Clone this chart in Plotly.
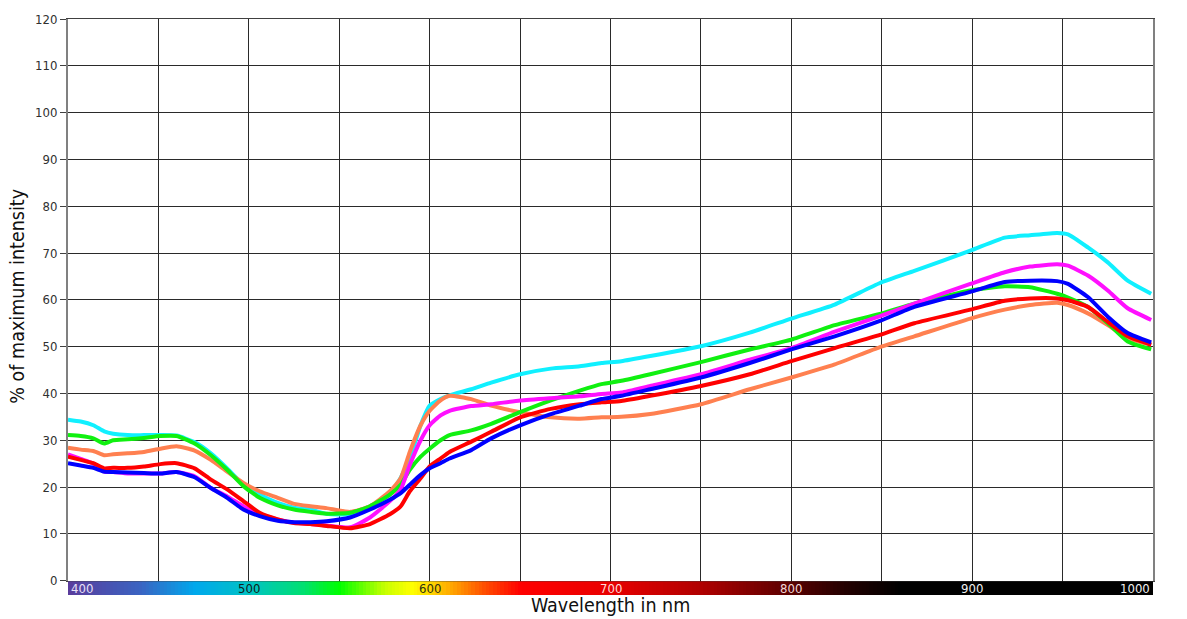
import numpy as np
import plotly.graph_objects as go

# ---------------- data ----------------
wavelength = [400, 407, 414, 420, 425, 433, 442, 451, 460, 470, 479, 488, 497, 506, 516, 525,
              534, 543, 556, 567, 578, 584, 589, 595, 600, 606, 611, 623, 634, 650, 667, 683,
              695, 706, 722, 750, 777, 800, 824, 849, 868, 899, 918, 932, 947, 953, 964, 975,
              986, 999]

cyan_vals = [34.4, 34.0, 33.2, 31.9, 31.4, 31.1, 31.1, 31.1, 31.0, 29.6, 27.2, 24.0, 20.5, 18.4,
             16.6, 15.6, 15.2, 14.3, 14.2, 15.9, 18.4, 22.0, 26.1, 33.2, 37.4, 38.8, 39.6, 40.9,
             42.3, 44.1, 45.3, 45.8, 46.5, 46.9, 48.0, 50.1, 53.0, 56.0, 59.0, 63.6, 66.2, 70.5,
             73.3, 73.8, 74.3, 74.0, 71.2, 68.0, 64.1, 61.3]

orange_vals = [28.4, 28.0, 27.7, 26.8, 27.0, 27.2, 27.5, 28.2, 28.7, 27.8, 25.8, 23.3, 20.9, 19.1,
               17.7, 16.4, 15.9, 15.5, 14.7, 15.9, 19.1, 21.9, 27.5, 33.2, 36.3, 38.5, 39.5, 38.8,
               37.4, 36.0, 34.9, 34.6, 34.9, 35.0, 35.6, 37.7, 40.9, 43.4, 46.2, 49.9, 52.2, 56.0,
               57.9, 58.9, 59.4, 58.9, 57.1, 54.6, 51.8, 50.4]

green_vals = [31.1, 30.9, 30.4, 29.3, 30.0, 30.2, 30.5, 30.9, 30.9, 29.3, 26.8, 23.7, 20.2, 17.7,
              16.1, 15.2, 14.7, 14.3, 14.5, 15.9, 18.4, 20.5, 23.7, 26.5, 28.2, 30.0, 31.1, 32.1,
              33.5, 36.0, 38.5, 40.6, 42.0, 42.7, 44.1, 46.7, 49.4, 51.5, 54.6, 57.0, 59.2, 62.0,
              62.9, 62.7, 61.3, 60.5, 58.5, 55.0, 51.1, 49.4]

magenta_vals = [27.0, 26.0, 25.0, 23.3, 23.2, 22.9, 22.9, 22.9, 23.2, 22.3, 19.8, 18.0, 15.9, 14.2,
                13.1, 12.4, 12.1, 11.8, 11.4, 13.5, 17.0, 19.5, 24.7, 30.0, 33.2, 35.3, 36.3, 37.3,
                37.7, 38.5, 39.0, 39.4, 39.9, 40.2, 41.6, 44.1, 47.2, 49.7, 53.2, 56.5, 59.2, 63.4,
                65.9, 67.1, 67.6, 67.3, 65.2, 62.0, 58.2, 55.7]

red_vals = [26.5, 25.8, 25.1, 24.0, 24.1, 24.1, 24.4, 24.9, 25.1, 24.0, 21.6, 19.5, 17.0, 14.5,
            13.1, 12.3, 12.1, 11.7, 11.2, 12.1, 14.2, 15.9, 19.1, 21.9, 24.4, 26.1, 27.5, 29.7,
            31.8, 34.9, 36.7, 37.7, 38.1, 38.4, 39.5, 41.6, 44.1, 46.9, 49.7, 52.5, 55.0, 57.9,
            59.8, 60.3, 60.3, 59.9, 58.5, 55.3, 52.2, 50.4]

blue_vals = [25.1, 24.6, 24.1, 23.3, 23.2, 23.1, 23.0, 22.9, 23.2, 22.1, 19.8, 17.7, 15.2, 13.8,
             12.8, 12.5, 12.5, 12.7, 13.5, 15.2, 17.3, 18.7, 20.5, 22.6, 24.0, 25.1, 26.1, 27.9,
             30.4, 33.2, 35.6, 37.4, 38.8, 39.5, 40.9, 43.4, 46.5, 49.4, 52.2, 55.5, 58.5, 61.7,
             63.8, 64.1, 64.0, 63.4, 60.6, 56.4, 52.9, 50.9]

series_names = ["cyan", "orange", "green", "magenta", "red", "blue"]
bar_ticks = [400, 500, 600, 700, 800, 900, 1000]
y_ticks = list(range(0, 121, 10))

# ---------------- styles ----------------
series_colors = {"cyan": "#10f0ff", "orange": "#ff8050", "green": "#10f010",
                 "magenta": "#ff10ff", "red": "#ff0000", "blue": "#0000ff"}
series_data = {"cyan": cyan_vals, "orange": orange_vals, "green": green_vals,
               "magenta": magenta_vals, "red": red_vals, "blue": blue_vals}
bar_label_colors = ["#e8e0f8", "#102020", "#303010", "#ffd8d8", "#f0d8d8", "#f0f0f0", "#f0f0f0"]

FONT = "DejaVu Sans Condensed, DejaVu Sans, sans-serif"
W, H = 1187, 619
ML, MR, MT, MB = 68, 34, 12, 24
ph = H - MT - MB
main_bottom = (H - MB - 580.5) / ph
bar_top = 14 / ph

fig = go.Figure()

# spectrum colour bar
bar_nm = np.arange(400, 1001, 2)
spectrum = [
    [0.0, "#5a3c9c"], [0.067, "#3a64c2"], [0.117, "#00a8ec"], [0.167, "#00c2c4"],
    [0.217, "#00e070"], [0.25, "#00ff00"], [0.292, "#c8ff00"], [0.317, "#ffff00"],
    [0.35, "#ffb000"], [0.383, "#ff5000"], [0.417, "#ff0000"], [0.5, "#e80000"],
    [0.583, "#b00000"], [0.667, "#580000"], [0.717, "#220000"], [0.767, "#000000"],
    [1.0, "#000000"]]
fig.add_trace(go.Heatmap(x=bar_nm, y=[0], z=[bar_nm], colorscale=spectrum, zmin=400, zmax=1000,
                         showscale=False, hoverinfo="skip", xaxis="x", yaxis="y2"))

for name in series_names:
    fig.add_trace(go.Scatter(x=wavelength, y=series_data[name], mode="lines", name=name,
                             line=dict(color=series_colors[name], width=4, shape="spline",
                                       smoothing=0.5),
                             showlegend=False, xaxis="x", yaxis="y"))

tickfont = dict(family=FONT, size=13, color="#303030")

fig.update_layout(
    width=W, height=H,
    margin=dict(l=ML, r=MR, t=MT, b=MB),
    paper_bgcolor="white", plot_bgcolor="white",
    showlegend=False,
    xaxis=dict(range=[400, 1000], dtick=50, tick0=400, showgrid=True, gridcolor="#2a2a2a",
               gridwidth=1, showticklabels=False, ticks="", zeroline=False,
               showline=True, linecolor="#404040", linewidth=1, mirror=True, anchor="y"),
    yaxis=dict(range=[0, 120], dtick=10, tick0=0, domain=[main_bottom, 1], showgrid=True,
               gridcolor="#2a2a2a", gridwidth=1, zeroline=False, ticks="outside", ticklen=6,
               tickcolor="#404040", tickfont=tickfont, showline=True, linecolor="#808080",
               linewidth=2, mirror=True, anchor="x"),
    yaxis2=dict(domain=[0, bar_top], range=[-0.5, 0.5], visible=False, fixedrange=True,
                anchor="x"),
    yaxis3=dict(range=[0, 120], dtick=10, tick0=0, overlaying="y", side="right",
                showgrid=False, zeroline=False, ticks="outside", ticklen=6,
                tickcolor="#404040", tickfont=tickfont, showline=False, anchor="x"),
)

# colour-bar labels
for v, c in zip(bar_ticks, bar_label_colors):
    if v == bar_ticks[0]:
        xa, xs = "left", 1
    elif v == bar_ticks[-1]:
        xa, xs = "right", -1
    else:
        xa, xs = "center", 0
    fig.add_annotation(x=v, y=(595 - 588) / ph, xref="x", yref="paper", text=str(v),
                       showarrow=False, xanchor=xa, yanchor="middle", xshift=xs,
                       font=dict(family=FONT, size=13, color=c))

fig.add_annotation(x=700, y=(H - MB - 606) / ph, xref="x", yref="paper",
                   text="Wavelength in nm", showarrow=False, xanchor="center", yanchor="middle",
                   font=dict(family=FONT, size=19.5, color="#101010"))
fig.add_annotation(x=(18 - ML) / (W - ML - MR), y=(H - MB - 293) / ph, xref="paper", yref="paper",
                   text="% of maximum intensity", showarrow=False, textangle=-90,
                   xanchor="center", yanchor="middle",
                   font=dict(family=FONT, size=19.5, color="#101010"))

fig.write_html("out.html")
